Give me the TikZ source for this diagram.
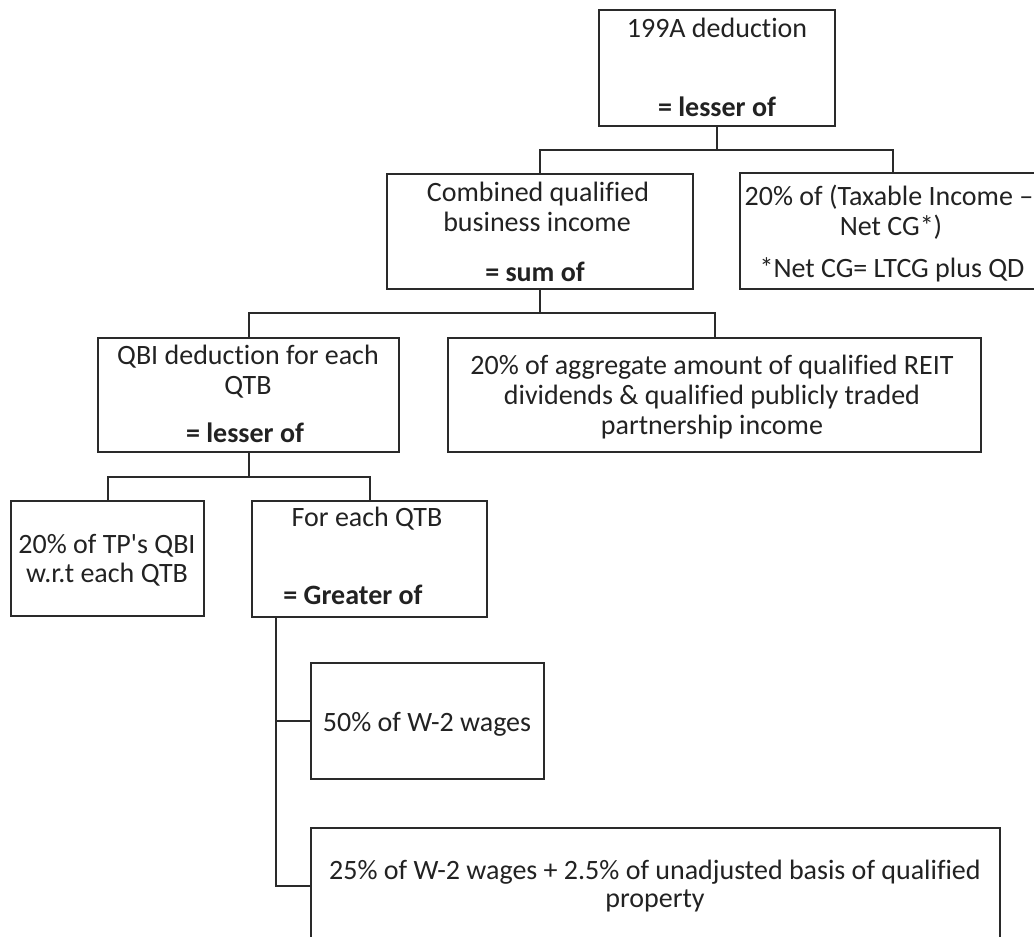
\documentclass[tikz,border=0pt]{standalone}
\usepackage{fontspec}
\setmainfont[Ligatures={NoCommon,TeXOff}]{Carlito}
\definecolor{ink}{HTML}{222222}
\definecolor{edge}{HTML}{2A2A2A}
\begin{document}
\begin{tikzpicture}[x=1pt,y=-1pt,
  box/.style={draw=edge, line width=2pt, inner sep=0pt},
  conn/.style={draw=edge, line width=2pt},
  t/.style={anchor=base, inner sep=0pt, text=ink, font=\fontsize{28}{30}\selectfont},
  tb/.style={t, font=\fontsize{28}{30}\selectfont\bfseries}]
\useasboundingbox (0,0) rectangle (1034,937);
\clip (0,0) rectangle (1034,937);
% boxes
\node[box, minimum width=236pt, minimum height=116pt] (top) at (717,68) {};
\node[box, minimum width=306pt, minimum height=116pt] (right) at (893,231) {};
\node[box, minimum width=306pt, minimum height=115pt] (comb) at (540,231.5) {};
\node[box, minimum width=301pt, minimum height=114pt] (qbi) at (248.5,395) {};
\node[box, minimum width=533pt, minimum height=114pt] (reit) at (714.5,395) {};
\node[box, minimum width=193pt, minimum height=115pt] (tp) at (107.5,558.5) {};
\node[box, minimum width=235pt, minimum height=116pt] (qtb) at (369.5,559) {};
\node[box, minimum width=233pt, minimum height=116pt] (w50) at (427.5,721) {};
\node[box, minimum width=689pt, minimum height=116pt] (w25) at (655.5,886) {};
% texts
\node[t] (t1a) at (717,37) {199A deduction};
\node[tb] (t1b) at (717,116) {= lesser of};
\node[t] (t2a) at (889,205) {20\% of (Taxable Income –};
\node[t] (t2b) at (891,235) {Net CG*)};
\node[t] (t2c) at (892,277) {*Net CG= LTCG plus QD};
\node[t] (t3a) at (538,201) {Combined qualified};
\node[t] (t3b) at (537,231) {business income};
\node[tb] (t3c) at (535,281) {= sum of};
\node[t] (t4a) at (248,364) {QBI deduction for each};
\node[t] (t4b) at (248,394) {QTB};
\node[tb] (t4c) at (245,442) {= lesser of};
\node[t] (t5a) at (712,374) {20\% of aggregate amount of qualified REIT};
\node[t] (t5b) at (712,404) {dividends \& qualified publicly traded};
\node[t] (t5c) at (712,434) {partnership income};
\node[t] (t6a) at (107,553) {20\% of TP's QBI};
\node[t] (t6b) at (107,582) {w.r.t each QTB};
\node[t] (t7a) at (367,526) {For each QTB};
\node[tb] (t7b) at (353,604) {= Greater of};
\node[t] (t8) at (427,731) {50\% of W-2 wages};
\node[t] (t9a) at (655,879) {25\% of W-2 wages + 2.5\% of unadjusted basis of qualified};
\node[t] (t9b) at (655,907) {property};
% connectors
\coordinate (j1) at (717,150);
\coordinate (j2) at (540,313);
\coordinate (j3) at (248.5,477);
\draw[conn] (top.south) -- (j1);
\draw[conn] (comb.north) |- (j1) -| (right.north);
\draw[conn] (comb.south) -- (j2);
\draw[conn] (qbi.north) |- (j2) -| (reit.north);
\draw[conn] (qbi.south) -- (j3);
\draw[conn] (tp.north) |- (j3) -| (qtb.north);
\coordinate (j4) at (276,617);
\draw[conn] (j4) |- (w50.west);
\draw[conn] (j4) |- (w25.west);
\end{tikzpicture}
\end{document}
